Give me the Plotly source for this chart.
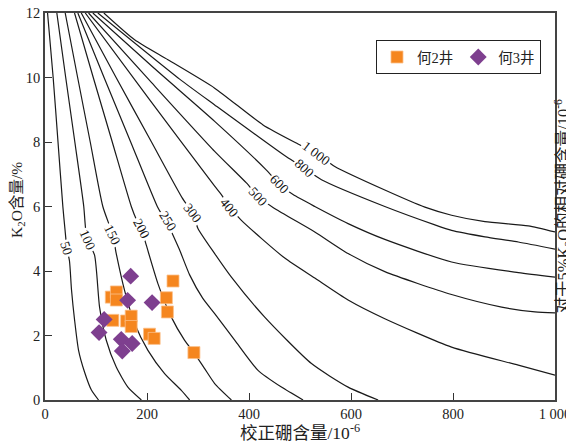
import plotly.graph_objects as go

# ---- contour curves: relative boron content (to 5% K2O) ----
levels = [50, 100, 150, 200, 250, 300, 400, 500, 600, 800, 1000]
level_text = ["50", "100", "150", "200", "250", "300", "400", "500", "600", "800", "1 000"]

c50_x = [5, 16, 25.5, 35, 39.3, 43, 48, 52, 58, 65.7, 77.5, 91, 105]
c50_y = [12, 10, 8, 6, 5.27, 4.69, 4.31, 3.41, 2.48, 1.55, 0.87, 0.31, 0]

c100_x = [23.2, 40.6, 58.5, 76, 79.5, 84, 97.2, 107, 120, 139.7, 162.5, 189]
c100_y = [12, 10, 8, 6, 5.33, 4.95, 4.49, 2.88, 1.86, 1.02, 0.40, 0]

c150_x = [39.6, 64, 88.7, 113.4, 133, 139.7, 156, 175.7, 201.8, 234.5, 267.3, 283.6]
c150_y = [12, 10, 8, 6, 5.11, 4.54, 3.40, 2.37, 1.54, 0.82, 0.30, 0]

c200_x = [57.9, 94.6, 131.9, 169.2, 179.6, 188.8, 198.6, 221.4, 247.7, 273.8, 292, 312.3, 332.7, 365.5]
c200_y = [12, 10, 8, 6, 5.58, 5.31, 4.80, 3.61, 2.57, 1.85, 1.47, 0.99, 0.51, 0]

c250_x = [64.4, 115.8, 168, 220.2, 228.7, 241, 248.3, 264, 283.6, 309.1, 332.7, 371.9, 417.7, 463.6, 506]
c250_y = [12, 10, 8, 6, 5.77, 5.52, 5.21, 4.65, 3.88, 3.16, 2.68, 1.86, 0.92, 0.40, 0]

c300_x = [71.1, 139.4, 208.8, 269.3, 290.1, 299.9, 332.7, 365.5, 430.8, 522.5, 594.3, 653.2]
c300_y = [12, 10, 8, 6.26, 5.78, 5.32, 4.54, 3.81, 2.57, 1.13, 0.40, 0]

c400_x = [78.9, 205.7, 332.7, 345.8, 362.1, 385.1, 470.1, 529, 594.3, 666.3, 797.2, 928, 1000]
c400_y = [12, 9.30, 6.63, 6.37, 5.99, 5.57, 4.40, 3.78, 3.10, 2.52, 1.64, 1.08, 0.77]

c500_x = [85.4, 209, 332.7, 394.9, 417.7, 447.1, 529, 594.3, 666.3, 797.2, 895.4, 960.7, 1000]
c500_y = [12, 9.84, 7.71, 6.73, 6.32, 5.97, 5.21, 4.54, 3.98, 3.27, 2.88, 2.73, 2.70]

c600_x = [93.8, 213, 332.7, 434.2, 460.3, 486.4, 529, 594.3, 666.3, 797.2, 928, 1000]
c600_y = [12, 10.30, 8.64, 7.13, 6.68, 6.37, 6.0, 5.47, 4.98, 4.28, 3.95, 3.81]

c800_x = [103.6, 264, 332.7, 473.4, 509.3, 542.1, 666.3, 764.5, 797.2, 862.6, 928, 1000]
c800_y = [12, 9.95, 9.15, 7.54, 7.18, 6.83, 6.0, 5.43, 5.26, 5.06, 4.90, 4.68]

c1000_x = [115.4, 175.7, 241, 332.7, 427.5, 496.2, 532.3, 568.2, 666.3, 744.9, 797.2, 862.6, 947.6, 1000]
c1000_y = [12, 11.17, 10.55, 9.67, 8.53, 7.94, 7.65, 7.24, 6.51, 5.98, 5.73, 5.53, 5.40, 5.21]

curve_x = [c50_x, c100_x, c150_x, c200_x, c250_x, c300_x, c400_x, c500_x, c600_x, c800_x, c1000_x]
curve_y = [c50_y, c100_y, c150_y, c200_y, c250_y, c300_y, c400_y, c500_y, c600_y, c800_y, c1000_y]

# curve label positions (on the curves)
label_x = [41.6, 84, 133, 188.8, 241, 290.1, 361, 417.7, 460.3, 509.3, 532.3]
label_y = [4.69, 4.95, 5.11, 5.31, 5.52, 5.78, 5.97, 6.32, 6.68, 7.18, 7.65]
label_angle = [72, 66, 64, 62, 58, 52, 50, 48, 45, 42, 37]

# ---- samples ----
he2_B = [251, 238, 240, 130, 140, 140, 133, 160, 169, 169, 205, 214, 292]
he2_K2O = [3.69, 3.17, 2.73, 3.19, 3.35, 3.10, 2.47, 2.45, 2.60, 2.28, 2.04, 1.91, 1.47]

he3_B = [168, 162, 210, 116, 106, 149.5, 171, 151.5]
he3_K2O = [3.84, 3.09, 3.02, 2.50, 2.09, 1.88, 1.75, 1.52]

x_ticks = [0, 200, 400, 600, 800, 1000]
x_tick_text = ["0", "200", "400", "600", "800", "1 000"]
y_ticks = [0, 2, 4, 6, 8, 10, 12]

SERIF = "Liberation Serif, Times New Roman, Noto Sans CJK SC"

fig = go.Figure()
for cx, cy in zip(curve_x, curve_y):
    fig.add_trace(go.Scatter(x=cx, y=cy, mode="lines",
                             line=dict(color="#1a1a1a", width=1.2, shape="spline", smoothing=0.6),
                             showlegend=False, hoverinfo="skip"))

fig.add_trace(go.Scatter(x=he2_B, y=he2_K2O, mode="markers", name="何2井",
                         marker=dict(symbol="square", size=12, color="#F5861F",
                                     line=dict(color="#FBC08A", width=0.8))))
fig.add_trace(go.Scatter(x=he3_B, y=he3_K2O, mode="markers", name="何3井",
                         marker=dict(symbol="diamond", size=13, color="#7E3F8F",
                                     line=dict(width=0))))

for lx, ly, la, lt in zip(label_x, label_y, label_angle, level_text):
    fig.add_annotation(x=lx, y=ly, text=lt, showarrow=False, textangle=la,
                       bgcolor="white", borderpad=1,
                       font=dict(family=SERIF, size=13.5, color="#111"))

fig.add_annotation(xref="paper", yref="paper", x=0.5, y=-0.083, xanchor="center", yanchor="middle",
                   text="校正硼含量/10<sup>-6</sup>",
                   showarrow=False, font=dict(family=SERIF, size=17.5, color="#222"))
fig.add_annotation(xref="paper", yref="paper", x=-0.0529, y=0.517, xanchor="center", yanchor="middle",
                   text="K<sub>2</sub>O含量/%",
                   showarrow=False, textangle=-90, font=dict(family=SERIF, size=15.5, color="#222"))
fig.add_annotation(xref="paper", yref="paper", x=1.0157, y=0.5, xanchor="center", yanchor="middle",
                   text="对于5%K<sub>2</sub>O的相对硼含量/10<sup>-6</sup>",
                   showarrow=False, textangle=-90, font=dict(family=SERIF, size=16.5, color="#222"))

fig.update_xaxes(range=[0, 1000], tickvals=x_ticks, ticktext=x_tick_text,
                 ticks="inside", ticklen=7, tickcolor="#333", showgrid=False, zeroline=False,
                 showline=True, linecolor="#444", linewidth=1.5, mirror=True,
                 ticklabeloverflow="allow",
                 tickfont=dict(family=SERIF, size=14.5, color="#222"))
fig.update_yaxes(range=[0, 12], tickvals=y_ticks,
                 ticks="inside", ticklen=7, tickcolor="#333", showgrid=False, zeroline=False,
                 showline=True, linecolor="#444", linewidth=1.5, mirror=True,
                 ticklabeloverflow="allow",
                 tickfont=dict(family=SERIF, size=14.5, color="#222"))

# page body has an 8px margin; offset figure margins so plot area lands at (45,13)-(555,400)
fig.update_layout(width=566, height=436, margin=dict(l=37, r=19, t=5, b=44, autoexpand=False),
                  plot_bgcolor="white", paper_bgcolor="white",
                  legend=dict(orientation="h", x=0.649, y=0.93, xanchor="left", yanchor="top",
                              bordercolor="#222", borderwidth=1, bgcolor="white",
                              font=dict(family=SERIF, size=14.5, color="#222")))

fig.write_html("out.html")
